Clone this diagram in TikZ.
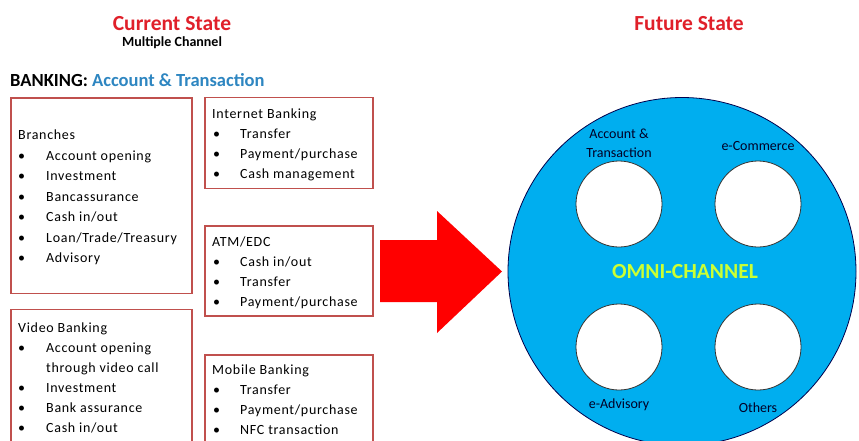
\documentclass[tikz,border=0pt]{standalone}
\usepackage{fontspec}
\setmainfont{Carlito}
\newfontfamily\bodyfont[LetterSpace=5]{Carlito}
\definecolor{boxred}{HTML}{C0504D}
\definecolor{titlered}{HTML}{E0202A}
\definecolor{bankblue}{HTML}{2E86C1}
\definecolor{omniblue}{HTML}{00AEEF}
\definecolor{omnigreen}{HTML}{CCFF33}
\definecolor{arrowred}{HTML}{FF0000}
\begin{document}
\begin{tikzpicture}[x=1pt,y=-1pt,
  chanbox/.style={draw=boxred,line width=1.3pt,fill=white},
  itemtxt/.style={anchor=base west,inner sep=0pt,font=\bodyfont\fontsize{14}{16}\selectfont},
  bul/.style={anchor=base,inner sep=0pt,font=\fontsize{14}{16}\selectfont},
  head/.style={anchor=base,inner sep=0pt,font=\fontsize{21.5}{23}\selectfont\bfseries,text=titlered},
  hole/.style={circle,draw=black!80,line width=0.8pt,fill=white,minimum size=86pt,inner sep=0pt},
  holelabel/.style={anchor=base,inner sep=0pt,font=\fontsize{14}{16}\selectfont,text=black!85!blue,align=center}]
\useasboundingbox (0,0) rectangle (859,440);
\fill[white] (0,0) rectangle (859,440);

% headings
\node[head] (cur) at (172,30) {Current State};
\node[anchor=base,inner sep=0pt,font=\fontsize{14}{16}\selectfont\bfseries] (mult) at (172,46.7) {Multiple Channel};
\node[anchor=base west,inner sep=0pt,font=\fontsize{18.5}{20}\selectfont\bfseries] (bank) at (10,86) {BANKING: \textcolor{bankblue}{Account \& Transaction}};
\node[head] (fut) at (689,30.7) {Future State};

% boxes
\path[chanbox] (11,98) rectangle (192,293.5);
\path[chanbox] (205,97.5) rectangle (373,188.5);
\path[chanbox] (205,226) rectangle (373,316);
\path[chanbox] (11,309.5) rectangle (192,446);
\path[chanbox] (205,355) rectangle (373,446);

% Branches
\node[itemtxt] (brT) at (18,139.5) {Branches};
\foreach \t [count=\i] in {Account opening,Investment,Bancassurance,Cash in/out,Loan/Trade/Treasury,Advisory}{
  \node[bul] (brb\i) at (21.5,139.5+20.5*\i) {\textbullet};
  \node[itemtxt] (bri\i) at (46,139.5+20.5*\i) {\t};
}
% Internet Banking
\node[itemtxt] (ibT) at (212,118) {Internet Banking};
\foreach \t [count=\i] in {Transfer,Payment/purchase,Cash management}{
  \node[bul] (ibb\i) at (216.5,118+20.3*\i) {\textbullet};
  \node[itemtxt] (ibi\i) at (240,118+20.3*\i) {\t};
}
% ATM/EDC
\node[itemtxt] (atT) at (212,246) {ATM/EDC};
\foreach \t [count=\i] in {Cash in/out,Transfer,Payment/purchase}{
  \node[bul] (atb\i) at (216.5,246+20*\i) {\textbullet};
  \node[itemtxt] (ati\i) at (240,246+20*\i) {\t};
}
% Video Banking
\node[itemtxt] (vbT) at (18,332.3) {Video Banking};
\node[bul] at (21.5,352.7) {\textbullet};
\node[itemtxt] (vbi1) at (46,352.7) {Account opening};
\node[itemtxt] (vbi1b) at (46,372.3) {through video call};
\node[bul] at (21.5,392.3) {\textbullet};
\node[itemtxt] (vbi2) at (46,392.3) {Investment};
\node[bul] at (21.5,412.3) {\textbullet};
\node[itemtxt] (vbi3) at (46,412.3) {Bank assurance};
\node[bul] at (21.5,432.3) {\textbullet};
\node[itemtxt] (vbi4) at (46,432.3) {Cash in/out};
% Mobile Banking
\node[itemtxt] (mbT) at (212,374) {Mobile Banking};
\foreach \t [count=\i] in {Transfer,Payment/purchase,NFC transaction}{
  \node[bul] (mbb\i) at (216.5,374+20*\i) {\textbullet};
  \node[itemtxt] (mbi\i) at (240,374+20*\i) {\t};
}

% big arrow
\fill[arrowred] (380,240) -- (437,240) -- (437,211) -- (502,271.5) -- (437,333) -- (437,302) -- (380,302) -- cycle;

% omni-channel circle
\node[circle,draw=black!70!blue,line width=0.8pt,fill=omniblue,minimum size=348pt,inner sep=0pt] (omni) at (682,271.5) {};
\node[anchor=base,inner sep=0pt,font=\fontsize{21.5}{23}\selectfont\bfseries,text=omnigreen] (omnit) at (685,278.3) {OMNI-CHANNEL};
\node[hole] (h1) at (619,204) {};
\node[hole] (h2) at (758,204) {};
\node[hole] (h3) at (619,347) {};
\node[hole] (h4) at (758,347) {};
\node[holelabel] (l1a) at (619,138) {Account \&};
\node[holelabel] (l1b) at (619,157) {Transaction};
\node[holelabel] (l2) at (758,150) {e-Commerce};
\node[holelabel] (l3) at (619,408) {e-Advisory};
\node[holelabel] (l4) at (758,412) {Others};
\end{tikzpicture}
\end{document}
